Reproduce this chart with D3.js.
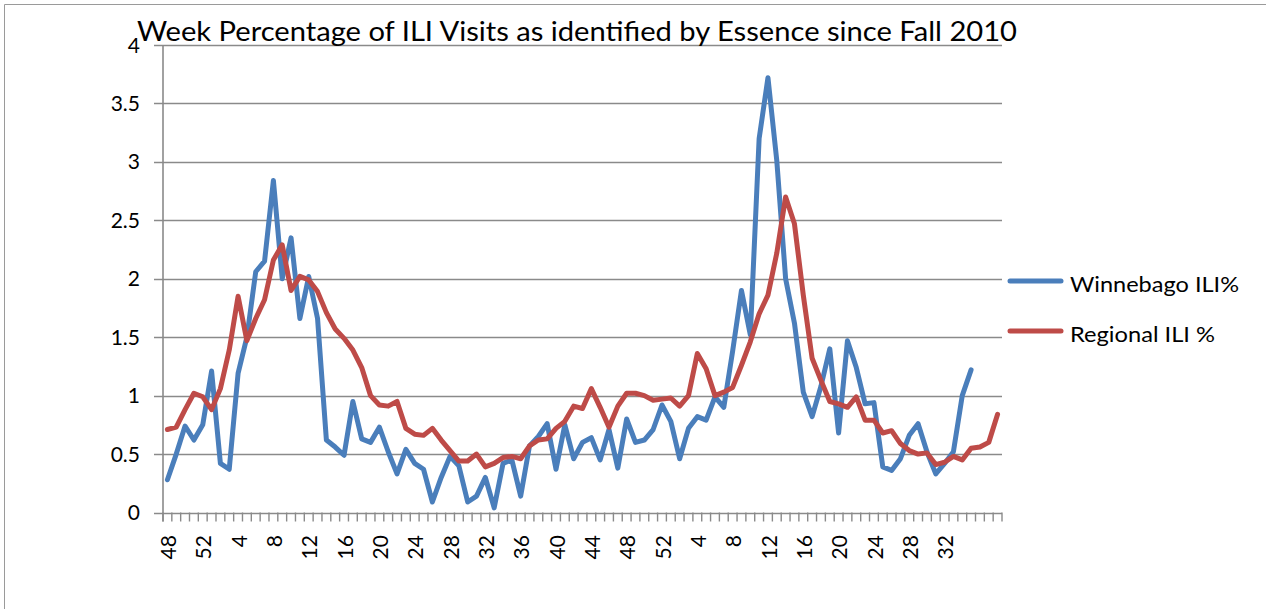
<!DOCTYPE html>
<html><head><meta charset="utf-8">
<script src="https://cdn.jsdelivr.net/npm/d3@7/dist/d3.min.js"></script>
<style>body{margin:0;background:#fff}svg{display:block}</style>
</head><body>
<svg id="chart" width="1266" height="609"></svg>
<script>
const titleText = "Week Percentage of ILI Visits as identified by Essence since Fall 2010";
const seriesNames = ["Winnebago ILI%", "Regional ILI %"];
const weekLabels = ["48","49","50","51","52",
  "1","2","3","4","5","6","7","8","9","10","11","12","13","14","15","16","17","18","19","20",
  "21","22","23","24","25","26","27","28","29","30","31","32","33","34","35","36","37","38","39","40",
  "41","42","43","44","45","46","47","48","49","50","51","52",
  "1","2","3","4","5","6","7","8","9","10","11","12","13","14","15","16","17","18","19","20",
  "21","22","23","24","25","26","27","28","29","30","31","32","33","34","35","","",""];
const winnebago = [0.28,0.5,0.74,0.62,0.75,1.21,0.42,0.37,1.19,1.5,2.06,2.15,2.84,2.0,2.35,1.66,2.02,1.66,0.62,0.56,
  0.49,0.95,0.63,0.6,0.73,0.52,0.33,0.54,0.42,0.37,0.09,0.3,0.48,0.4,0.09,0.14,0.3,0.04,0.42,0.45,
  0.14,0.57,0.65,0.76,0.37,0.75,0.46,0.6,0.64,0.45,0.71,0.38,0.8,0.6,0.62,0.71,0.92,0.78,0.46,0.72,
  0.82,0.79,0.99,0.9,1.38,1.9,1.52,3.2,3.72,3.01,2.0,1.62,1.03,0.82,1.08,1.4,0.68,1.47,1.24,0.93,
  0.94,0.39,0.36,0.46,0.66,0.76,0.52,0.33,0.42,0.52,1.0,1.22];
const regional = [0.71,0.73,0.88,1.02,0.99,0.88,1.06,1.39,1.85,1.47,1.66,1.82,2.16,2.29,1.9,2.02,1.99,1.89,1.71,1.57,
  1.49,1.39,1.24,1.0,0.92,0.91,0.95,0.72,0.67,0.66,0.72,0.62,0.53,0.44,0.44,0.5,0.39,0.42,0.47,0.48,
  0.46,0.57,0.62,0.63,0.72,0.78,0.91,0.89,1.06,0.9,0.73,0.91,1.02,1.02,1.0,0.96,0.97,0.98,0.91,1.0,
  1.36,1.23,1.0,1.03,1.07,1.26,1.46,1.7,1.86,2.22,2.7,2.47,1.86,1.32,1.13,0.95,0.93,0.9,0.99,0.79,
  0.79,0.68,0.7,0.59,0.53,0.5,0.51,0.41,0.43,0.48,0.45,0.55,0.56,0.6,0.84];
const yTicks = [0, 0.5, 1, 1.5, 2, 2.5, 3, 3.5, 4];
const colors = ["#4A7EBB", "#BE4B48"];

const FONT = "Lato, 'Open Sans', sans-serif";
const GRID = "#8a8a8a";
const svg = d3.select("#chart");
const L = 163, R = 1002, T = 45, B = 512.5;

const x = d3.scaleBand().domain(d3.range(weekLabels.length)).range([L, R]);
const y = d3.scaleLinear().domain([0, 4]).range([B, T]);
const cx = i => x(i) + x.bandwidth() / 2;

// outer chart border (only top/left visible in frame)
svg.append("path").attr("d", "M4.5,620 V4.5 H1280")
  .attr("fill", "none").attr("stroke", "#9a9a9a").attr("stroke-width", 1);

// gridlines + y ticks
svg.append("g").selectAll("line").data(yTicks).join("line")
  .attr("x1", L - 9).attr("x2", R)
  .attr("y1", d => Math.round(y(d)) + 0.5).attr("y2", d => Math.round(y(d)) + 0.5)
  .attr("stroke", GRID).attr("stroke-width", 1.6);

// y axis line
svg.append("line").attr("x1", L).attr("x2", L).attr("y1", T).attr("y2", B + 9)
  .attr("stroke", GRID).attr("stroke-width", 1.6);

// x tick marks at category boundaries
const bounds = d3.range(weekLabels.length + 1).map(i => L + i * x.step());
svg.append("g").selectAll("line").data(bounds).join("line")
  .attr("x1", d => d).attr("x2", d => d)
  .attr("y1", B).attr("y2", B + 9)
  .attr("stroke", GRID).attr("stroke-width", 1.4);

// y labels
svg.append("g").selectAll("text").data(yTicks).join("text")
  .attr("x", 140).attr("y", d => y(d))
  .attr("dy", "0.36em").attr("text-anchor", "end")
  .attr("font-family", FONT).attr("font-size", 21).attr("fill", "#000")
  .text(d => d3.format("")(d));

// x labels every 4th category
const labIdx = d3.range(0, weekLabels.length, 4).filter(i => weekLabels[i] !== "");
svg.append("g").selectAll("text").data(labIdx).join("text")
  .attr("transform", i => `translate(${cx(i) + 1},${535}) rotate(-90)`)
  .attr("text-anchor", "end").attr("dy", "0.36em")
  .attr("font-family", FONT).attr("font-size", 21).attr("fill", "#000")
  .text(i => weekLabels[i]);

// series lines
const line = d3.line().x((d, i) => cx(i)).y(d => y(d));
[winnebago, regional].forEach((s, k) => {
  svg.append("path").datum(s).attr("d", line)
    .attr("fill", "none").attr("stroke", colors[k]).attr("stroke-width", 5)
    .attr("stroke-linejoin", "round").attr("stroke-linecap", "round");
});

// legend
const legY = [281, 331];
seriesNames.forEach((n, k) => {
  svg.append("line").attr("x1", 1010).attr("x2", 1061).attr("y1", legY[k]).attr("y2", legY[k])
    .attr("stroke", colors[k]).attr("stroke-width", 5).attr("stroke-linecap", "round");
  svg.append("text").attr("x", 1070).attr("y", legY[k] + 11)
    .attr("font-family", FONT).attr("font-size", 22).attr("fill", "#000")
    .attr("textLength", k === 0 ? 169 : 145).attr("lengthAdjust", "spacingAndGlyphs")
    .text(n);
});

// title
svg.append("text").attr("x", 137).attr("y", 41)
  .attr("font-family", FONT).attr("font-size", 27).attr("fill", "#000")
  .attr("textLength", 880).attr("lengthAdjust", "spacingAndGlyphs")
  .text(titleText);
</script>
</body></html>
